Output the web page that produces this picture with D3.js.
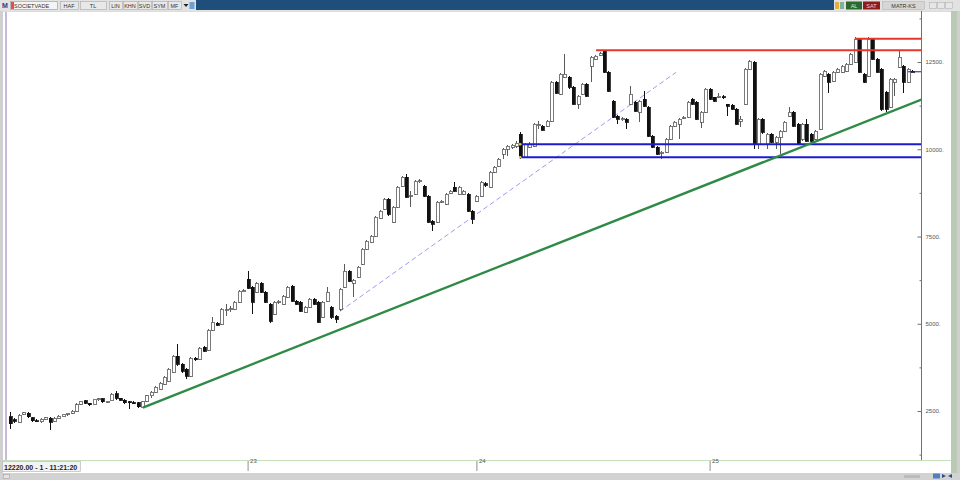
<!DOCTYPE html>
<html><head><meta charset="utf-8">
<script src="https://cdn.jsdelivr.net/npm/d3@7"></script>
<style>html,body{margin:0;padding:0;background:#fff;overflow:hidden}svg{display:block}</style>
</head><body><svg id="c" width="960" height="480"></svg>
<script>
// ---- data (weekly OHLC) ----
const opens = [
2330,2250,2180,2400,2440,2300,2220,2190,2270,2290,
2200,2290,2340,2400,2430,2500,2700,2790,2720,2700,
2830,2850,2760,2800,3000,2860,2810,2760,2740,2730,
2600,2780,2940,3038,3124,3268,3354,3611,4069,3840,
3697,3497,4012,3984,4327,4241,4814,5015,4986,5380,
5400,5416,5617,5932,6275,6046,5903,6161,5903,5559,
5273,5620,5559,5760,6075,5645,5617,5330,5473,5703,
5617,5187,5645,5473,5215,5416,6046,6505,6161,6333,
6705,7135,7336,7508,8023,8281,8568,7908,8338,8940,
9198,8653,8711,9083,8940,8653,7937,7908,8480,8424,
8739,8911,8711,8711,8711,8224,8510,8653,9010,8911,
9341,9513,9857,10000,10057,10086,10430,9771,10057,10086,
10688,10659,10659,10802,11920,11576,12063,12063,11776,11289,
11576,11862,12378,12579,12700,12808,12206,11375,10945,10860,
10860,11289,11347,11060,11433,11203,10372,10057,9880,9914,
10287,10659,10716,10890,10917,11433,11347,10774,11060,11719,
11490,11500,11500,11289,11261,11146,10802,11289,12292,12493,
10143,10860,10143,10430,10201,10344,10516,10945,11060,10716,
10287,10716,10430,10287,10573,12091,12149,11948,12206,12206,
12235,12435,12493,13152,12149,12091,13152,12579,12292,11633,
11203,11920,12349,12378,11920,12235];
const highs = [
2480,2300,2420,2480,2470,2320,2260,2300,2320,2320,
2320,2380,2420,2450,2520,2720,2800,2820,2740,2850,
2870,2860,2800,3020,3060,2880,2830,2790,2780,2750,
2780,2960,3080,3220,3330,3500,3730,4100,4413,3870,
3720,4040,4060,4330,4360,4850,5187,5050,5450,5559,
5500,5650,5960,5989,6505,6080,6200,6190,5930,5600,
5650,5690,5820,6080,6100,5670,5640,5500,5730,5730,
5650,5650,6046,5500,5250,6020,6705,6540,6280,6650,
7170,7400,7540,8090,8260,8600,8600,8370,8940,9230,
9280,8797,9110,9140,8970,8680,7970,8510,8560,8740,
8830,9055,8940,8830,8740,8250,8680,9080,9050,9370,
9510,9750,10040,10130,10150,10250,10487,10180,10200,10750,
10802,10690,10830,11950,11950,12180,12722,12090,11800,11550,
11890,11890,12670,12700,12800,12837,12230,11400,10970,10920,
10890,11805,11370,11400,11662,11230,10400,10080,9960,10320,
10690,10800,10890,10960,11380,11460,11370,11090,11750,11750,
11510,11600,11550,11310,11290,11170,10960,12320,12550,12520,
10900,10890,10460,10460,10370,10550,10800,11200,11090,10740,
10740,10880,10460,10540,12180,12260,12180,12230,12320,12410,
12460,12750,13209,13180,12180,13209,13180,12610,12320,11660,
12030,12030,12808,12400,12320,12260];
const lows = [
1980,2150,2150,2380,2300,2180,2180,2160,2240,1950,
2180,2270,2320,2370,2400,2480,2680,2700,2650,2690,
2800,2740,2740,2780,2820,2790,2700,2560,2700,2600,
2580,2760,2870,3010,3100,3240,3330,3590,3800,3600,
3411,3470,3940,3960,4180,4220,4790,4930,4960,5215,
5330,5390,5590,5903,5990,5273,5880,5870,5590,5030,
5240,5580,5530,5730,5610,5530,5330,5300,5450,5530,
5010,5160,5620,5150,5010,5359,6020,6190,5760,6300,
6680,7110,7310,7480,8000,8250,8100,7880,8310,8910,
8590,8338,8690,9040,8620,7880,7651,7880,8450,8400,
8710,8770,8690,8690,8190,7851,8480,8630,8930,8890,
9310,9490,9714,9800,10000,10050,9714,9740,10030,10060,
10573,10510,10630,10770,11570,11550,12030,11740,11260,11146,
11550,11490,11920,12550,12680,12180,11630,10890,10716,10820,
10573,11260,11060,10774,11200,10340,10030,9830,9714,9890,
10260,10630,10287,10860,10890,11260,10830,10600,11030,11400,
11340,11480,11450,10945,11120,10690,10650,11260,12260,10000,
10000,10450,10000,10170,10000,9860,10490,10920,10630,10110,
10250,10200,10143,10260,10540,12060,11600,11920,12180,12180,
12210,12410,12460,12180,11890,12060,12550,12180,11110,11060,
11180,11518,12320,11600,11890,12210];
const closes = [
2130,2200,2380,2450,2340,2220,2200,2270,2300,2180,
2290,2350,2400,2430,2490,2680,2780,2720,2680,2830,
2850,2770,2780,2980,2860,2810,2740,2740,2720,2620,
2760,2940,3040,3181,3296,3468,3697,4069,3840,3640,
3497,4012,3970,4299,4213,4814,5044,4957,5416,5400,
5430,5617,5932,5950,6018,5617,6161,5903,5617,5072,
5617,5640,5789,6046,5645,5559,5359,5473,5703,5559,
5044,5617,5903,5187,5130,5989,6505,6218,6247,6619,
7135,7364,7508,8052,8224,8568,8138,8338,8911,9198,
8625,8680,9083,9100,8653,7908,7851,8482,8510,8711,
8797,8797,8911,8797,8224,7995,8653,9055,8970,9341,
9484,9714,10000,10086,10115,10172,9771,10143,10143,10716,
10700,10544,10802,11920,11604,12149,12149,11776,11289,11518,
11862,11518,12636,12664,12740,12206,11662,10917,10860,10880,
10774,11576,11089,11375,11232,10372,10057,9857,9914,10287,
10659,10774,10860,10917,11347,11289,10860,11060,11719,11433,
11375,11520,11480,11232,11146,10716,10860,12292,12521,10143,
10860,10487,10430,10201,10344,10516,10774,11060,10659,10143,
10716,10229,10229,10516,12149,12235,11920,12206,12292,12378,
12435,12722,13152,12206,11920,13152,12579,12206,11146,11146,
12006,12006,12636,11920,12292,12220];

const yearTickIndex = [54, 106, 159];
const yearTickLabels = ["23", "24", "25"];
const yMajorTicks = [2500, 5000, 7500, 10000, 12500];
const yMinorTicks = [1250, 3750, 6250, 8750, 11250, 13750];
const lastPrice = 12220;
const statusText = "12220.00 - 1 - 11:21:20";

// drawn studies: [startIndex, startValue, endIndex, endValue]
const trendGreen = [30.2, 2600, 207.3, 11430];
const trendDashed = [75, 5359, 151.4, 12206];
const redLevels = [[133.2, 12837], [192, 13166]];
const blueLevels = [[115.7, 10143], [115.7, 9771]];
const lineEndIndex = 207.3;

// ---- drawing ----
const svg = d3.select('#c');
const x = d3.scaleLinear().domain([0, opens.length - 1]).range([10, 912]);
const y = d3.scaleLinear().domain([2500, 12500]).range([411, 62]);
const plotL = 7, plotR = 921, plotT = 11, plotB = 460;

// window frame
svg.append('rect').attr('width', 960).attr('height', 480).attr('fill', '#cfcfcf');
svg.append('rect').attr('x', 3).attr('y', 11).attr('width', 948).attr('height', 462).attr('fill', '#ffffff');
svg.append('rect').attr('x', 951).attr('y', 11).attr('width', 6).attr('height', 462).attr('fill', '#b9c9b4');
svg.append('rect').attr('x', 5).attr('y', 11).attr('width', 2).attr('height', 449).attr('fill', '#cbb7dc');
svg.append('line').attr('x1', 3).attr('x2', 951).attr('y1', 11.5).attr('y2', 11.5).attr('stroke', '#cfe6c8');
svg.append('line').attr('x1', 3).attr('x2', 951).attr('y1', 460.5).attr('y2', 460.5).attr('stroke', '#c3e0bb');
svg.append('rect').attr('x', 0).attr('y', 473).attr('width', 960).attr('height', 7).attr('fill', '#d2d2d2');

// top toolbar
const tb = svg.append('g').attr('font-family', 'Liberation Sans, Arial, sans-serif').attr('font-size', 5.5);
tb.append('rect').attr('x', 0).attr('y', 0).attr('width', 960).attr('height', 11).attr('fill', '#e2e2e2');
tb.append('rect').attr('x', 196).attr('y', 0).attr('width', 638).attr('height', 10).attr('fill', '#1f4e7b');
tb.append('text').attr('x', 2).attr('y', 8).attr('font-weight', 'bold').attr('font-size', 7).attr('fill', '#243c8c').text('M');
tb.append('rect').attr('x', 10.5).attr('y', 1.5).attr('width', 47).attr('height', 8).attr('fill', '#f4f4f4').attr('stroke', '#9a9a9a').attr('stroke-width', 0.6);
tb.append('rect').attr('x', 11).attr('y', 2).attr('width', 3).attr('height', 7).attr('fill', '#e05050');
tb.append('text').attr('x', 14).attr('y', 7.8).attr('fill', '#333').text('SOCIETVADE');
const btns = [['HAF', 60, 78], ['TL', 80, 106], ['LIN', 109, 122], ['KHN', 123, 137], ['SVD', 138, 151], ['SYM', 152, 167], ['MF', 168, 181]];
btns.forEach(b => {
  tb.append('rect').attr('x', b[1] + 0.5).attr('y', 1.5).attr('width', b[2] - b[1]).attr('height', 8).attr('fill', '#e8e8e8').attr('stroke', '#a8a8a8').attr('stroke-width', 0.6);
  tb.append('text').attr('x', (b[1] + b[2]) / 2).attr('y', 7.8).attr('text-anchor', 'middle').attr('fill', '#333').text(b[0]);
});
tb.append('path').attr('d', 'M183.5,4 L188.5,4 L186,7 Z').attr('fill', '#222');
tb.append('rect').attr('x', 189.5).attr('y', 2).attr('width', 5).attr('height', 7).attr('fill', '#6aa0d8');
tb.append('rect').attr('x', 835).attr('y', 2).attr('width', 4).attr('height', 7).attr('fill', '#e2b040');
tb.append('rect').attr('x', 840).attr('y', 2).attr('width', 4).attr('height', 7).attr('fill', '#7fb0a0');
tb.append('rect').attr('x', 846).attr('y', 1.5).attr('width', 16).attr('height', 8).attr('fill', '#2c6a2c');
tb.append('text').attr('x', 854).attr('y', 7.8).attr('text-anchor', 'middle').attr('fill', '#d8f0d8').text('AL');
tb.append('rect').attr('x', 863).attr('y', 1.5).attr('width', 17).attr('height', 8).attr('fill', '#8e1c1c');
tb.append('text').attr('x', 871.5).attr('y', 7.8).attr('text-anchor', 'middle').attr('fill', '#f8d0d0').text('SAT');
tb.append('rect').attr('x', 882.5).attr('y', 1.5).attr('width', 42).attr('height', 8).attr('fill', '#d6d6d6').attr('stroke', '#b0b0b0').attr('stroke-width', 0.5);
tb.append('text').attr('x', 903.5).attr('y', 7.8).attr('text-anchor', 'middle').attr('fill', '#333').text('MATR-KS');
[929, 937, 945].forEach(bx => tb.append('rect').attr('x', bx + 0.5).attr('y', 2.5).attr('width', 7).attr('height', 6).attr('fill', '#e6e6e6').attr('stroke', '#aaa').attr('stroke-width', 0.5));

// clip for plot
svg.append('clipPath').attr('id', 'pc').append('rect').attr('x', plotL).attr('y', plotT).attr('width', plotR - plotL).attr('height', plotB - plotT);
const plot = svg.append('g').attr('clip-path', 'url(#pc)');

// trend lines (behind candles)
plot.append('line')
  .attr('x1', x(trendDashed[0])).attr('y1', y(trendDashed[1])).attr('x2', x(trendDashed[2])).attr('y2', y(trendDashed[3]))
  .attr('stroke', '#9c9cf0').attr('stroke-width', 1).attr('stroke-dasharray', '5,3');

// candles
const idx = d3.range(opens.length);
const g = plot.append('g').attr('shape-rendering', 'crispEdges');
idx.forEach(i => {
  const o = opens[i], c = closes[i], h = highs[i], l = lows[i];
  const up = c >= o;
  const cx = Math.round(x(i)) + 0.5;
  const col = up ? '#5a5a5a' : '#111';
  g.append('line').attr('x1', cx).attr('x2', cx)
    .attr('y1', y(Math.max(h, o, c))).attr('y2', y(Math.min(l, o, c)))
    .attr('stroke', col).attr('stroke-width', 1);
  const top = y(Math.max(o, c)), bot = y(Math.min(o, c));
  const hgt = Math.max(1, bot - top);
  g.append('rect').attr('x', cx - 1.5).attr('y', top).attr('width', 3).attr('height', hgt)
    .attr('fill', up ? '#ffffff' : '#111').attr('stroke', col).attr('stroke-width', 0.8);
});

// horizontal levels and trend line
redLevels.forEach(r => plot.append('line').attr('x1', x(r[0])).attr('x2', x(lineEndIndex)).attr('y1', y(r[1])).attr('y2', y(r[1]))
  .attr('stroke', '#e8362c').attr('stroke-width', 2));
blueLevels.forEach(b => plot.append('line').attr('x1', x(b[0])).attr('x2', x(lineEndIndex)).attr('y1', y(b[1])).attr('y2', y(b[1]))
  .attr('stroke', '#1b1bd0').attr('stroke-width', 2));
plot.append('line')
  .attr('x1', x(trendGreen[0])).attr('y1', y(trendGreen[1])).attr('x2', x(trendGreen[2])).attr('y2', y(trendGreen[3]))
  .attr('stroke', '#2f8a45').attr('stroke-width', 2.4);
blueLevels.forEach(b => plot.append('circle').attr('cx', x(b[0]) + 1).attr('cy', y(b[1])).attr('r', 1.3).attr('fill', '#e8d050'));

// last price marker
plot.append('line').attr('x1', x(opens.length - 1) - 4).attr('x2', plotR).attr('y1', y(lastPrice)).attr('y2', y(lastPrice))
  .attr('stroke', '#20208a').attr('stroke-width', 1);

// y axis
const axG = svg.append('g').attr('transform', `translate(${plotR + 0.5},0)`);
axG.call(d3.axisLeft(y).tickValues(yMajorTicks).tickSize(4).tickFormat(''));
axG.append('g').call(d3.axisLeft(y).tickValues(yMinorTicks).tickSize(2).tickFormat(''));
axG.selectAll('.domain').attr('d', `M0,${plotT}V${plotB}`).attr('stroke', '#707070');
axG.selectAll('.tick line').attr('stroke', '#707070');
const labG = svg.append('g').attr('transform', `translate(${plotR + 0.5},0)`);
labG.call(d3.axisRight(y).tickValues(yMajorTicks).tickSize(0).tickPadding(4).tickFormat(d => d + '.'));
labG.select('.domain').remove();
labG.selectAll('text').attr('font-family', 'Liberation Sans, Arial, sans-serif').attr('font-size', 6).attr('fill', '#555');

// x axis (year ticks)
const xa = svg.append('g').attr('transform', `translate(0,${plotB + 1})`);
xa.call(d3.axisBottom(x).tickValues(yearTickIndex).tickSize(10).tickPadding(-8).tickFormat((d, k) => yearTickLabels[k]));
xa.select('.domain').remove();
xa.selectAll('.tick line').attr('stroke', '#909090');
xa.selectAll('.tick text').attr('text-anchor', 'start').attr('dx', 2).attr('dy', 0)
  .attr('font-family', 'Liberation Sans, Arial, sans-serif').attr('font-size', 6).attr('fill', '#555');

// status box
svg.append('rect').attr('x', 2.5).attr('y', 461.5).attr('width', 78).attr('height', 10).attr('fill', '#f3f3f3').attr('stroke', '#b0b0b0').attr('stroke-width', 0.6);
svg.append('text').attr('x', 4).attr('y', 469.5).attr('font-family', 'Liberation Sans, Arial, sans-serif').attr('font-size', 7)
  .attr('font-weight', 'bold').attr('fill', '#222').text(statusText);

// bottom strip controls
svg.append('rect').attr('x', 3.5).attr('y', 474.5).attr('width', 6).attr('height', 4).attr('fill', '#e4e4e4').attr('stroke', '#999').attr('stroke-width', 0.5);
svg.append('rect').attr('x', 904).attr('y', 475).attr('width', 16).attr('height', 3).attr('fill', '#bcbcbc');
svg.append('rect').attr('x', 933).attr('y', 473.5).attr('width', 7).attr('height', 5).attr('fill', '#4f7fc0');
svg.append('path').attr('d', 'M946,476 L942,474 L942,478 Z M948,476 L952,474 L952,478 Z').attr('fill', '#2d4f8c');
</script></body></html>
